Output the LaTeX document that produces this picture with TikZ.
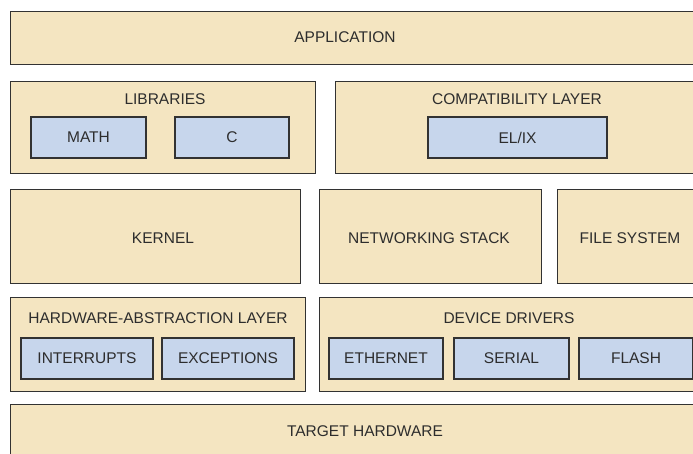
\documentclass[tikz,border=0pt]{standalone}
\usepackage{fontspec}
\setmainfont{Liberation Sans}
\definecolor{layertan}{RGB}{244, 229, 193}
\definecolor{partblue}{RGB}{199, 214, 236}
\definecolor{edgegray}{RGB}{50, 50, 50}
\definecolor{textgray}{RGB}{45, 45, 45}

\begin{document}
\begin{tikzpicture}[x=1pt, y=-1pt,
  layer/.style={draw=edgegray, fill=layertan, line width=1.3pt, inner sep=0pt,
                anchor=north west},
  part/.style={draw=edgegray, fill=partblue, line width=1.3pt, inner sep=0pt,
               minimum height=41pt, font=\fontsize{15.5}{18}\selectfont, text=textgray},
  title/.style={font=\fontsize{15.5}{18}\selectfont, text=textgray}
]
  \useasboundingbox (0,0) rectangle (693,454);
  \clip (0,0) rectangle (693,454);

  % layers
  \node[layer, minimum width=710pt, minimum height=53pt] (app) at (10,11) {};
  \node[layer, minimum width=305pt, minimum height=92pt] (lib) at (10,81) {};
  \node[layer, minimum width=385pt, minimum height=92pt] (compat) at (335,81) {};
  \node[layer, minimum width=290pt, minimum height=94pt] (kernel) at (10,189) {};
  \node[layer, minimum width=222pt, minimum height=94pt] (net) at (319,189) {};
  \node[layer, minimum width=163pt, minimum height=94pt] (fs) at (557,189) {};
  \node[layer, minimum width=295pt, minimum height=94pt] (hal) at (10,297) {};
  \node[layer, minimum width=401pt, minimum height=94pt] (drv) at (319,297) {};
  \node[layer, minimum width=710pt, minimum height=80pt] (target) at (10,404) {};

  % layer titles
  \node[title] (app-t) at (345,37.5) {APPLICATION};
  \node[title] (lib-t) at (165,99.5) {LIBRARIES};
  \node[title] (compat-t) at (517,99.5) {COMPATIBILITY LAYER};
  \node[title] (kernel-t) at (163,238) {KERNEL};
  \node[title] (net-t) at (429,238) {NETWORKING STACK};
  \node[title] (fs-t) at (630,238) {FILE SYSTEM};
  \node[title] (hal-t) at (158,318) {HARDWARE-ABSTRACTION LAYER};
  \node[title] (drv-t) at (509,318) {DEVICE DRIVERS};
  \node[title] (target-t) at (365,431.5) {TARGET HARDWARE};

  % parts
  \node[part, minimum width=115pt] (math) at (88.5,137.5) {MATH};
  \node[part, minimum width=114pt] (c) at (232,137.5) {C};
  \node[part, minimum width=179pt] (elix) at (517.5,137.5) {EL/IX};
  \node[part, minimum width=132pt] (intr) at (87,358.5) {INTERRUPTS};
  \node[part, minimum width=132pt] (exc) at (228,358.5) {EXCEPTIONS};
  \node[part, minimum width=114pt] (eth) at (386,358.5) {ETHERNET};
  \node[part, minimum width=115pt] (ser) at (511.5,358.5) {SERIAL};
  \node[part, minimum width=114pt] (flash) at (636,358.5) {FLASH};
\end{tikzpicture}
\end{document}
